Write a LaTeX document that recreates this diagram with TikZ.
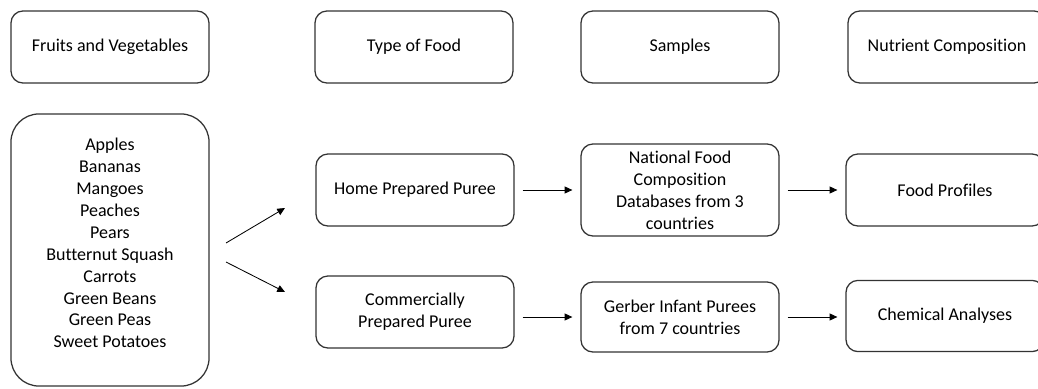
\documentclass[tikz,border=0pt]{standalone}
\usepackage{fontspec}
\setmainfont[Ligatures={NoCommon}]{Carlito}
\usepackage{tikz}
\usetikzlibrary{shapes,positioning,arrows.meta}
\tikzset{blk/.style={rectangle,draw=black!80,line width=0.9pt,rounded corners=0.3cm,minimum width=4.95cm,minimum height=1.8cm,align=center,inner sep=2pt,font=\fontsize{12.8}{15.6}\selectfont},
  lst/.style={blk,rounded corners=0.7cm,minimum height=6.8cm},
  txt/.style={align=center,inner sep=0pt,font=\fontsize{12.8}{15.6}\selectfont}}

\begin{document}
\begin{tikzpicture}[x=0.025cm,y=-0.025cm,>={Triangle[length=5.5pt,width=5pt]}]
        \useasboundingbox (0,0) rectangle (1038,388);
        \node[blk] (fv) at (110,47) {Fruits and Vegetables};
        \node[blk] (tf) at (414,47) {Type of Food};
        \node[blk] (sm) at (680,47) {Samples};
        \node[blk] (nc) at (947,47) {Nutrient Composition};
        \node[lst] (list) at (110,250) {};
        \node[txt] (items) at (110,243) {Apples\\Bananas\\Mangoes\\Peaches\\Pears\\Butternut Squash\\Carrots\\Green Beans\\Green Peas\\Sweet Potatoes};
        \node[blk] (home) at (415,190) {Home Prepared Puree};
        \node[blk] (comm) at (415,312) {Commercially\\Prepared Puree};
        \node[blk,minimum height=2.3cm] (nat) at (680,190) {National Food\\Composition\\Databases from 3\\countries};
        \node[blk,minimum height=1.75cm] (gerb) at (680,317) {Gerber Infant Purees\\from 7 countries};
        \node[blk] (prof) at (945,190) {Food Profiles};
        \node[blk,minimum height=1.78cm] (chem) at (945,316) {Chemical Analyses};

        \coordinate (up0) at (226,243);
        \coordinate (up1) at (285,208);
        \coordinate (dn0) at (226,262);
        \coordinate (dn1) at (285,292);

        \draw [->,line width=0.6pt] (up0) to (up1);
        \draw [->,line width=0.6pt] (dn0) to (dn1);
        \draw [->,line width=0.6pt,shorten <=0.2cm,shorten >=0.2cm] (home) to (nat);
        \draw [->,line width=0.6pt,shorten <=0.2cm,shorten >=0.2cm] (comm.east |- gerb.west) to (gerb.west);
        \draw [->,line width=0.6pt,shorten <=0.2cm,shorten >=0.2cm] (nat) to (prof);
        \draw [->,line width=0.6pt,shorten <=0.2cm,shorten >=0.2cm] (gerb.east) to (chem.west |- gerb.east);
    \end{tikzpicture}
\end{document}
